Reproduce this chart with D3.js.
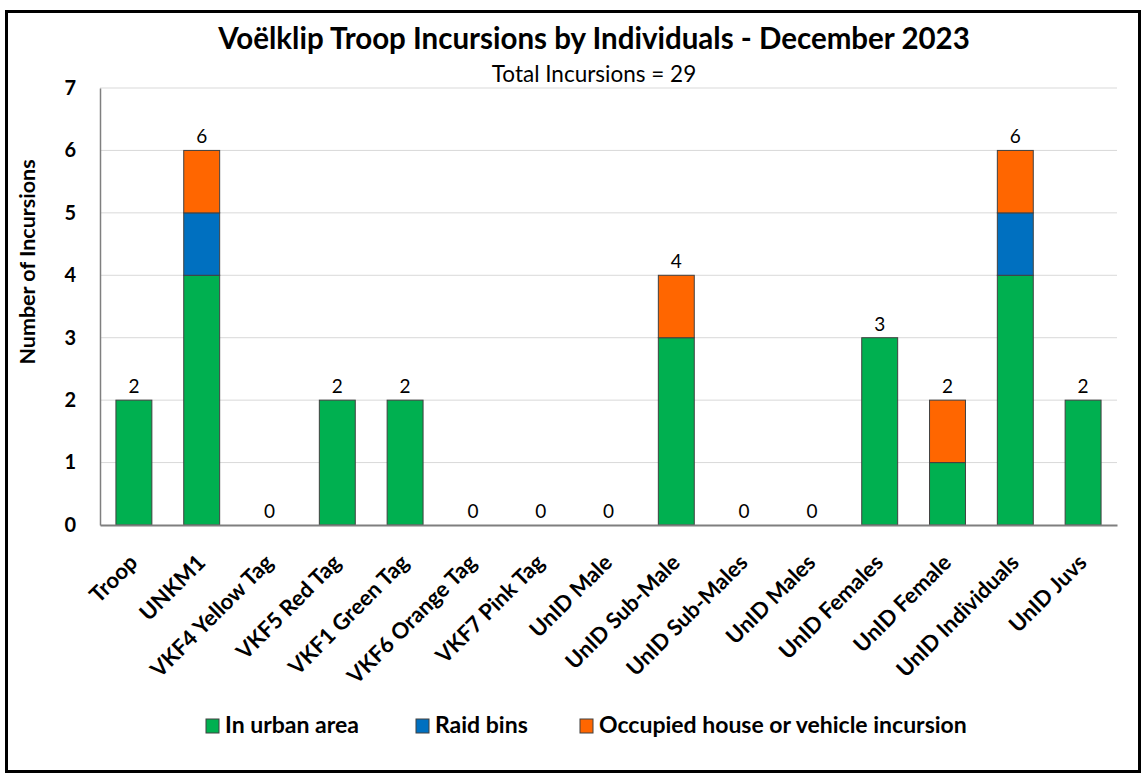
<!DOCTYPE html>
<html><head><meta charset="utf-8">
<script src="https://cdn.jsdelivr.net/npm/d3@7"></script>
<style>body{margin:0;background:#fff;font-family:Lato,'Open Sans',sans-serif;}</style>
</head><body><svg id="c" width="1145" height="778"></svg>
<script>
const categories = ["Troop","UNKM1","VKF4 Yellow Tag","VKF5 Red Tag","VKF1 Green Tag","VKF6 Orange Tag","VKF7 Pink Tag","UnID Male","UnID Sub-Male","UnID Sub-Males","UnID Males","UnID Females","UnID Female","UnID Individuals","UnID Juvs"];
const urban    = [2,4,0,2,2,0,0,0,3,0,0,3,1,4,2];
const raid     = [0,1,0,0,0,0,0,0,0,0,0,0,0,1,0];
const occupied = [0,1,0,0,0,0,0,0,1,0,0,0,1,1,0];
const seriesNames = ["In urban area","Raid bins","Occupied house or vehicle incursion"];
const yTicks = [0,1,2,3,4,5,6,7];
const colors = ["#00B050","#0070C0","#FF6600"];

const svg = d3.select("#c");
const font = "Lato, 'Open Sans', sans-serif";
svg.append("rect").attr("x",6.5).attr("y",11.5).attr("width",1133).attr("height",760)
  .attr("fill","#fff").attr("stroke","#000").attr("stroke-width",3);

const L=100,R=1117,T=88,B=525;
const x = d3.scaleBand().domain(categories).range([L,R]).paddingInner(0.47).paddingOuter(0.235);
const y = d3.scaleLinear().domain([0,7]).range([B,T]);

// gridlines
svg.append("g").selectAll("line").data(yTicks.filter(d=>d>0)).join("line")
  .attr("x1",L).attr("x2",R).attr("y1",d=>y(d)).attr("y2",d=>y(d))
  .attr("stroke","#d9d9d9").attr("stroke-width",1);

const rows = categories.map((c,i)=>({cat:c,u:urban[i],r:raid[i],o:occupied[i]}));
const stack = d3.stack().keys(["u","r","o"])(rows);
svg.append("g").selectAll("g").data(stack).join("g").attr("fill",(d,i)=>colors[i])
  .selectAll("rect").data(d=>d.filter(s=>s[1]-s[0]>0)).join("rect")
  .attr("x",d=>x(d.data.cat)).attr("width",x.bandwidth())
  .attr("y",d=>y(d[1])).attr("height",d=>y(d[0])-y(d[1]))
  .attr("stroke","#404040").attr("stroke-width",1);

// axes
const yAxis = svg.append("g").attr("transform",`translate(${L},0)`)
  .call(d3.axisLeft(y).tickValues(yTicks).tickFormat(d3.format("d")).tickSize(0).tickPadding(24));
yAxis.select(".domain").attr("stroke","#7f7f7f").attr("stroke-width",1.5);
yAxis.selectAll("text").attr("font-family",font).attr("font-weight","bold").attr("font-size",20).attr("fill","#000");

const xAxis = svg.append("g").attr("transform",`translate(0,${B})`)
  .call(d3.axisBottom(x).tickSize(0).tickPadding(0));
xAxis.select(".domain").attr("stroke","#7f7f7f").attr("stroke-width",2);
xAxis.selectAll("text").attr("font-family",font).attr("font-weight","bold").attr("font-size",22).attr("fill","#000")
  .attr("text-anchor","end").attr("dy",0).attr("y",0)
  .attr("transform","translate(5,39) rotate(-45)");

// totals
svg.append("g").selectAll("text").data(rows).join("text")
  .attr("x",d=>x(d.cat)+x.bandwidth()/2).attr("y",d=>y(d.u+d.r+d.o)-7)
  .attr("text-anchor","middle").attr("font-family",font).attr("font-size",19).attr("fill","#000")
  .text(d=>d.u+d.r+d.o);

// titles
svg.append("text").attr("x",594).attr("y",49).attr("text-anchor","middle").attr("font-family",font)
  .attr("font-weight","bold").attr("font-size",29.5).text("Voëlklip Troop Incursions by Individuals - December 2023");
svg.append("text").attr("x",594).attr("y",82).attr("text-anchor","middle").attr("font-family",font)
  .attr("font-size",22.5).text("Total Incursions = 29");
svg.append("text").attr("transform","translate(35,262) rotate(-90)").attr("text-anchor","middle").attr("font-family",font)
  .attr("font-weight","bold").attr("font-size",21.5).text("Number of Incursions");

// legend
const legX = [206,416,580];
const lg = svg.append("g").selectAll("g").data(seriesNames).join("g")
  .attr("transform",(d,i)=>`translate(${legX[i]},719)`);
lg.append("rect").attr("width",13).attr("height",14).attr("fill",(d,i)=>colors[i]).attr("stroke","#404040").attr("stroke-width",1);
lg.append("text").attr("x",19).attr("y",13.5).attr("font-family",font).attr("font-weight","bold").attr("font-size",23).text(d=>d);
</script></body></html>
